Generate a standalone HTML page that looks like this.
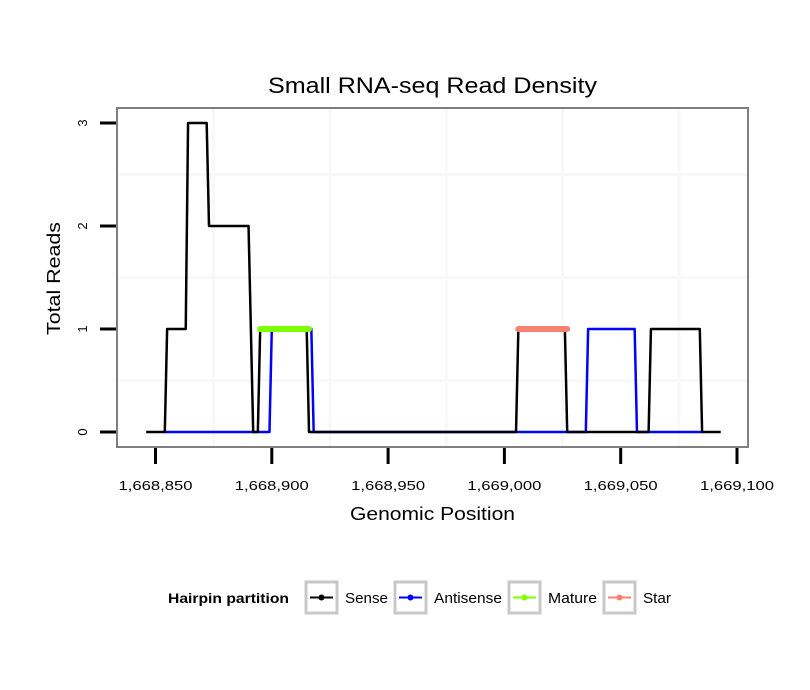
<!DOCTYPE html>
<html><head><meta charset="utf-8"><style>
body{margin:0;background:#fff;}
svg{display:block;font-family:"Liberation Sans",sans-serif;}
</style></head><body>
<svg id="chart" width="810" height="690" viewBox="0 0 810 690">
<rect width="810" height="690" fill="#fff"/>
<text x="268" y="93" font-size="22" textLength="329" lengthAdjust="spacingAndGlyphs">Small RNA-seq Read Density</text>
<g id="grid"></g>
<g id="series"></g>
<rect x="117" y="108" width="631" height="339" fill="none" stroke="#7f7f7f" stroke-width="2"/>
<g id="axes"></g>
<text x="350" y="520" font-size="18" textLength="165" lengthAdjust="spacingAndGlyphs">Genomic Position</text>
<text transform="translate(60,335) rotate(-90)" font-size="18" textLength="113" lengthAdjust="spacingAndGlyphs">Total Reads</text>
<g>
<text x="168" y="603" font-size="14" font-weight="bold" textLength="121" lengthAdjust="spacingAndGlyphs">Hairpin partition</text>
<g>
<rect x="306" y="582" width="31" height="31" fill="#fff" stroke="#c8c8c8" stroke-width="3"/>
<line x1="310" y1="597.5" x2="333" y2="597.5" stroke="#000" stroke-width="2"/><circle cx="321.5" cy="597.5" r="3" fill="#000"/>
<text x="345" y="603" font-size="15" textLength="43" lengthAdjust="spacingAndGlyphs">Sense</text></g>
<g>
<rect x="395" y="582" width="31" height="31" fill="#fff" stroke="#c8c8c8" stroke-width="3"/>
<line x1="399" y1="597.5" x2="422" y2="597.5" stroke="#0000ff" stroke-width="2"/><circle cx="410.5" cy="597.5" r="3" fill="#0000ff"/>
<text x="434" y="603" font-size="15" textLength="68" lengthAdjust="spacingAndGlyphs">Antisense</text></g>
<g>
<rect x="509" y="582" width="31" height="31" fill="#fff" stroke="#c8c8c8" stroke-width="3"/>
<line x1="513" y1="597.5" x2="536" y2="597.5" stroke="#7fff00" stroke-width="2"/><circle cx="524.5" cy="597.5" r="3" fill="#7fff00"/>
<text x="548" y="603" font-size="15" textLength="49" lengthAdjust="spacingAndGlyphs">Mature</text></g>
<g>
<rect x="604" y="582" width="31" height="31" fill="#fff" stroke="#c8c8c8" stroke-width="3"/>
<line x1="608" y1="597.5" x2="631" y2="597.5" stroke="#fa8072" stroke-width="2"/><circle cx="619.5" cy="597.5" r="3" fill="#fa8072"/>
<text x="643" y="603" font-size="15" textLength="28" lengthAdjust="spacingAndGlyphs">Star</text></g>
</g>
</svg>
<script>
const xTicks=[1668850,1668900,1668950,1669000,1669050,1669100];
const xTickLabels=["1,668,850","1,668,900","1,668,950","1,669,000","1,669,050","1,669,100"];
const yTicks=[0,1,2,3];
const senseX=[1668846,1668854,1668855,1668863,1668864,1668872,1668873,1668890,1668892,1668894,1668895,1668915,1668916,1669005,1669006,1669026,1669027,1669062,1669063,1669084,1669085,1669093];
const senseY=[0,0,1,1,3,3,2,2,0,0,1,1,0,0,1,1,0,0,1,1,0,0];
const antiX=[1668854,1668899,1668900,1668917,1668918,1669035,1669036,1669056,1669057,1669085];
const antiY=[0,0,1,1,0,0,1,1,0,0];
const matureX=[1668895,1668916];
const matureY=[1,1];
const starX=[1669006,1669027];
const starY=[1,1];
const NS="http://www.w3.org/2000/svg";
const sx=v=>155.5+(v-1668850)*2.326;
const sy=v=>432-v*103;
function mk(tag,attrs,parent){const e=document.createElementNS(NS,tag);for(const k in attrs)e.setAttribute(k,attrs[k]);parent.appendChild(e);return e;}
const grid=document.getElementById('grid'),series=document.getElementById('series'),axes=document.getElementById('axes');
[1668875,1668925,1668975,1669025,1669075].forEach(v=>{const l=mk('line',{x1:sx(v),x2:sx(v),y1:109,y2:446,stroke:'#f8f8f8','stroke-width':3},grid);

});
[0.5,1.5,2.5].forEach(v=>{const l=mk('line',{x1:118,x2:747,y1:sy(v),y2:sy(v),stroke:'#f8f8f8','stroke-width':3},grid);

});
function path(xs,ys,color,w,cap,name){const d=xs.map((x,i)=>(i?'L':'M')+sx(x)+' '+sy(ys[i])).join(' ');
const p=mk('path',{d:d,fill:'none',stroke:color,'stroke-width':w,'stroke-linecap':cap,'stroke-linejoin':'round'},series);

}
path(antiX,antiY,'#0000ff',2.5,'butt','antisense-line');
path(senseX,senseY,'#000',2.5,'butt','sense-line');
path(matureX,matureY,'#7fff00',6,'round','mature-line');
path(starX,starY,'#fa8072',6,'round','star-line');
xTicks.forEach((v,i)=>{const t=mk('line',{x1:sx(v),x2:sx(v),y1:448,y2:464,stroke:'#000','stroke-width':3},axes);


const tx=mk('text',{x:sx(v)-37,y:490,'font-size':13,textLength:74,lengthAdjust:'spacingAndGlyphs'},axes);tx.textContent=xTickLabels[i];

});
yTicks.forEach(v=>{const t=mk('line',{x1:100,x2:116,y1:sy(v),y2:sy(v),stroke:'#000','stroke-width':3},axes);


const tx=mk('text',{transform:`translate(87,${sy(v)}) rotate(-90)`,'text-anchor':'middle','font-size':13},axes);tx.textContent=String(v);

});
</script>
</body></html>
